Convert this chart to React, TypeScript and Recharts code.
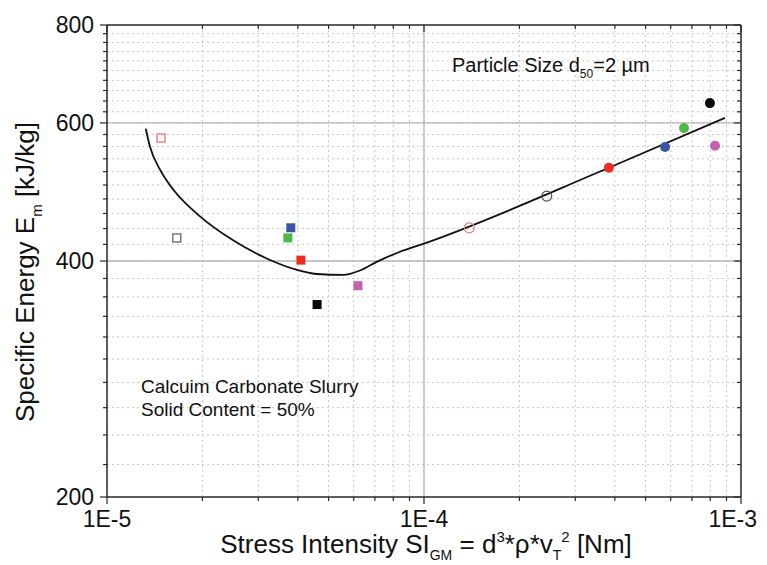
import { ScatterChart, Scatter, XAxis, YAxis, CartesianGrid, ReferenceLine, Customized } from 'recharts'

// fitted curve (specific energy vs stress intensity)
const curveSI = [1.325e-5, 1.366e-5, 1.47e-5, 1.62e-5, 1.965e-5, 2.5e-5, 3.19e-5, 3.87e-5, 4.59e-5, 5.57e-5, 6.28e-5, 7.09e-5, 8.4e-5, 1.0e-4, 3.83e-4, 8.9e-4]
const curveEm = [590, 560, 523, 493, 456, 425, 403, 391, 385, 384, 389, 399, 411, 421, 526, 609]

// square markers
const squareSI = [1.48e-5, 1.66e-5, 3.8e-5, 3.72e-5, 4.09e-5, 6.19e-5, 4.6e-5]
const squareEm = [574, 428, 441, 428, 401, 372, 352]
const squareColors = ['#f07a78', '#707070', '#3a56a6', '#4fb848', '#ee2b24', '#c560ae', '#0a0a0a']
const squareFilled = [false, false, true, true, true, true, true]

// circle markers
const circleSI = [1.39e-4, 2.44e-4, 3.83e-4, 5.76e-4, 6.61e-4, 7.98e-4, 8.28e-4]
const circleEm = [441, 484, 526, 559, 591, 636, 561]
const circleColors = ['#f07a78', '#505050', '#ee2b24', '#3a56a6', '#4fb848', '#0a0a0a', '#c560ae']
const circleFilled = [false, false, true, true, true, true, true]

const xMajor = [1e-5, 1e-4, 1e-3]
const xLabels = ['1E-5', '1E-4', '1E-3']
const yMajor = [200, 400, 600, 800]

const xTicks = [1e-5, 1e-4].flatMap((d) => [1, 2, 3, 4, 5, 6, 7, 8, 9].map((m) => m * d)).concat([1e-3])
const yTicks = Array.from({ length: 31 }, (_, i) => 200 + i * 20)

const font = 'Liberation Sans, Arial, sans-serif'
const axisColor = '#2a2a2a'

const majorIndex = (v: number, list: number[]) => list.findIndex((m) => Math.abs(m - v) / m < 1e-6)

const curveData = curveSI.map((x, i) => ({ x, y: curveEm[i] }))
const squareData = squareSI.map((x, i) => ({ x, y: squareEm[i], k: i }))
const circleData = circleSI.map((x, i) => ({ x, y: circleEm[i], k: i }))

function BottomTick(props: any) {
  const { x, y, payload } = props
  const mi = majorIndex(payload.value, xMajor)
  const last = mi === xMajor.length - 1
  return (
    <g>
      <line x1={x} y1={y} x2={x} y2={y + (mi >= 0 ? 7 : 4)} stroke={axisColor} strokeWidth={1.2} />
      {mi >= 0 && (
        <text
          x={last ? x + 16 : x}
          y={y + 30}
          textAnchor={last ? 'end' : 'middle'}
          fontFamily={font}
          fontSize={23}
          fill="#111"
        >
          {xLabels[mi]}
        </text>
      )}
    </g>
  )
}

function TopTick(props: any) {
  const { x, y, payload } = props
  const mi = majorIndex(payload.value, xMajor)
  return <line x1={x} y1={y} x2={x} y2={y + (mi >= 0 ? 7 : 4)} stroke={axisColor} strokeWidth={1.2} />
}

function LeftTick(props: any) {
  const { x, y, payload } = props
  const mi = majorIndex(payload.value, yMajor)
  return (
    <g>
      <line x1={x} y1={y} x2={x - (mi >= 0 ? 7 : 4)} y2={y} stroke={axisColor} strokeWidth={1.2} />
      {mi >= 0 && (
        <text x={x - 13} y={y + 8} textAnchor="end" fontFamily={font} fontSize={23} fill="#111">
          {yMajor[mi]}
        </text>
      )}
    </g>
  )
}

function RightTick(props: any) {
  const { x, y, payload } = props
  const mi = majorIndex(payload.value, yMajor)
  return <line x1={x} y1={y} x2={x - (mi >= 0 ? 7 : 4)} y2={y} stroke={axisColor} strokeWidth={1.2} />
}

function Square(props: any) {
  const { cx, cy, payload } = props
  const k = payload.k
  const c = squareColors[k]
  if (squareFilled[k]) return <rect x={cx - 4.5} y={cy - 4.5} width={9} height={9} fill={c} />
  return <rect x={cx - 4} y={cy - 4} width={8} height={8} fill="#fff" stroke={c} strokeWidth={1.4} />
}

function Circle(props: any) {
  const { cx, cy, payload } = props
  const k = payload.k
  const c = circleColors[k]
  if (circleFilled[k]) return <circle cx={cx} cy={cy} r={5} fill={c} />
  return <circle cx={cx} cy={cy} r={5} fill="none" stroke={c} strokeWidth={1.2} />
}

function Texts() {
  return (
    <g fontFamily={font} fill="#111">
      <text x={444} y={64} fontSize={20}>
        Particle Size d<tspan fontSize={12} dy={6}>50</tspan>
        <tspan dy={-6}>=2 µm</tspan>
      </text>
      <text x={133} y={385} fontSize={19}>Calcuim Carbonate Slurry</text>
      <text x={133} y={408} fontSize={19}>Solid Content = 50%</text>
      <text x={418} y={545} textAnchor="middle" fontSize={26}>
        Stress Intensity SI<tspan fontSize={14} dy={7}>GM</tspan>
        <tspan dy={-7}> = d</tspan>
        <tspan fontSize={15} dy={-11}>3</tspan>
        <tspan dy={11}>*ρ*v</tspan>
        <tspan fontSize={14} dy={7}>T</tspan>
        <tspan fontSize={15} dy={-18}>2</tspan>
        <tspan dy={11}> [Nm]</tspan>
      </text>
      <text x={0} y={0} transform="translate(26,264) rotate(-90)" textAnchor="middle" fontSize={26}>
        Specific Energy E<tspan fontSize={15} dy={8}>m</tspan>
        <tspan dy={-8}> [kJ/kg]</tspan>
      </text>
    </g>
  )
}

export default function App() {
  return (
    <ScatterChart width={759} height={557} margin={{ top: 16, right: 25, bottom: 0, left: 0 }}>
      <CartesianGrid stroke="#c8c8c8" strokeDasharray="2 3" strokeWidth={1} />
      <XAxis
        xAxisId={0}
        dataKey="x"
        type="number"
        scale="log"
        domain={[1e-5, 1e-3]}
        ticks={xTicks}
        interval={0}
        height={68}
        tickLine={false}
        tickSize={0}
        tickMargin={0}
        tick={<BottomTick />}
        axisLine={{ stroke: axisColor, strokeWidth: 1.5 }}
        allowDataOverflow
      />
      <XAxis
        xAxisId="top"
        orientation="top"
        dataKey="x"
        type="number"
        scale="log"
        domain={[1e-5, 1e-3]}
        ticks={xTicks}
        interval={0}
        height={1}
        tickLine={false}
        tickSize={0}
        tickMargin={0}
        tick={<TopTick />}
        axisLine={{ stroke: axisColor, strokeWidth: 1.5 }}
        allowDataOverflow
      />
      <YAxis
        yAxisId={0}
        dataKey="y"
        type="number"
        scale="log"
        domain={[200, 800]}
        ticks={yTicks}
        interval={0}
        width={99}
        tickLine={false}
        tickSize={0}
        tickMargin={0}
        tick={<LeftTick />}
        axisLine={{ stroke: axisColor, strokeWidth: 1.5 }}
        allowDataOverflow
      />
      <YAxis
        yAxisId="right"
        orientation="right"
        dataKey="y"
        type="number"
        scale="log"
        domain={[200, 800]}
        ticks={yTicks}
        interval={0}
        width={1}
        tickLine={false}
        tickSize={0}
        tickMargin={0}
        tick={<RightTick />}
        axisLine={{ stroke: axisColor, strokeWidth: 1.5 }}
        allowDataOverflow
      />
      <ReferenceLine x={1e-4} stroke="#b5b5b5" strokeWidth={1.3} />
      <ReferenceLine y={400} stroke="#b5b5b5" strokeWidth={1.3} />
      <ReferenceLine y={600} stroke="#b5b5b5" strokeWidth={1.3} />
      <Scatter
        data={curveData}
        line={{ stroke: '#111', strokeWidth: 1.8 }}
        lineJointType="monotoneX"
        shape={() => <g />}
        isAnimationActive={false}
      />
      <Scatter data={squareData} shape={<Square />} isAnimationActive={false} />
      <Scatter data={circleData} shape={<Circle />} isAnimationActive={false} />
      <Customized component={Texts} />
    </ScatterChart>
  )
}
